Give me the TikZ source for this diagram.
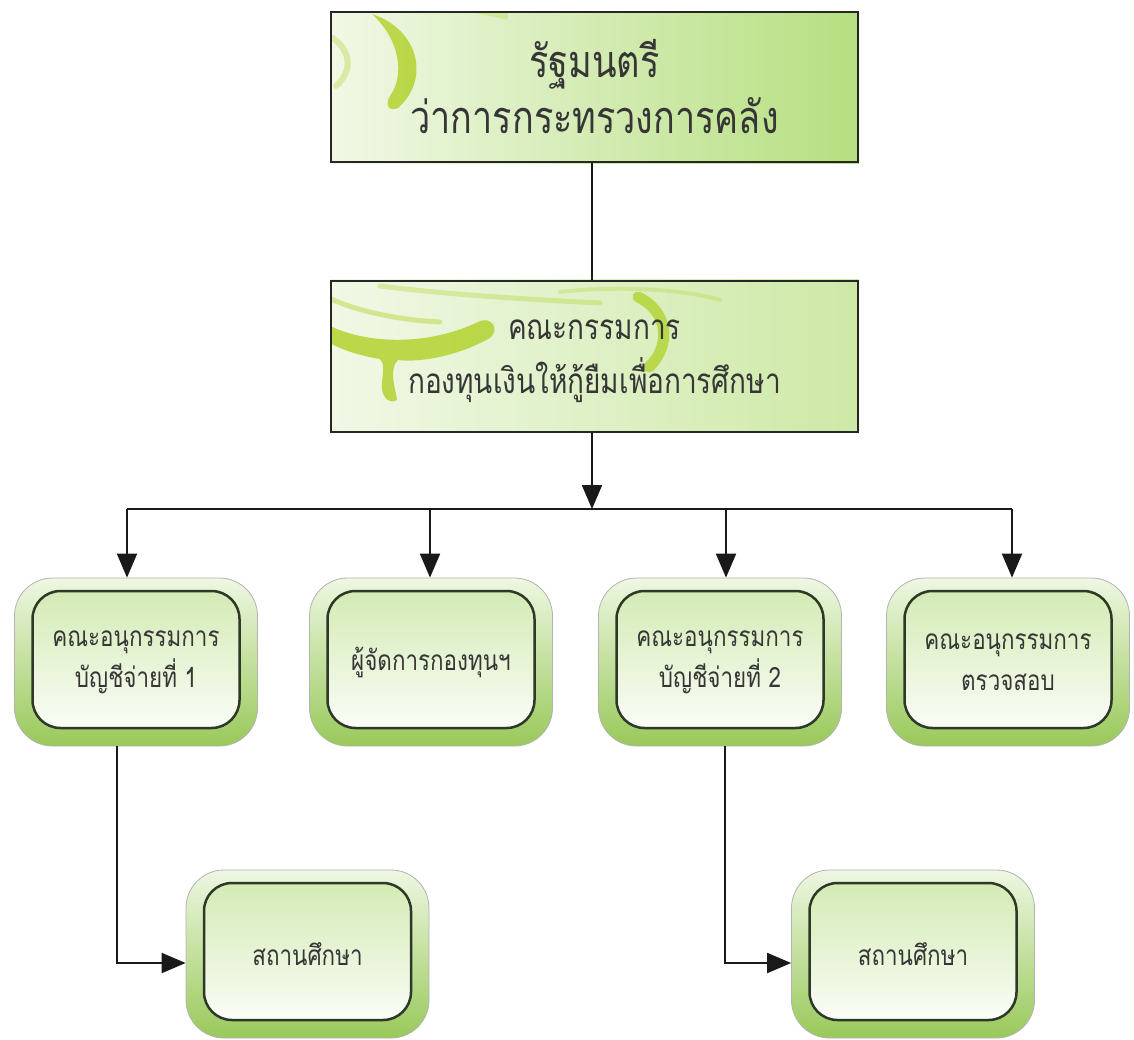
\documentclass[tikz,border=0pt]{standalone}
\usepackage{fontspec}
\newfontfamily\thaifont[Script=Thai,FakeStretch=0.8]{Loma}
\usetikzlibrary{arrows.meta,backgrounds}
\definecolor{rimgreen}{HTML}{99C95A}
\definecolor{rimlight}{HTML}{EEF7E2}
\definecolor{innertop}{HTML}{D0E9AE}
\definecolor{edgecol}{HTML}{2E3828}
\definecolor{txt}{HTML}{363636}
\definecolor{swirl}{HTML}{B2D330}
\definecolor{boxleft}{HTML}{F1F8E6}
\definecolor{boxrightA}{HTML}{B6DF80}
\definecolor{boxrightB}{HTML}{CDE9A6}
\begin{document}
\begin{tikzpicture}[x=1pt,y=-1pt,
  every node/.style={text=txt, align=center},
  conn/.style={line width=2pt, draw=black!90},
  arr/.style={conn, -{Triangle[length=24pt,width=20pt]}},
  rbox/.style={rectangle, rounded corners=38pt, minimum width=243pt,
    minimum height=168pt, inner sep=0pt, top color=rimlight,
    bottom color=rimgreen, draw=gray!60, line width=0.8pt,
    font=\thaifont\fontsize{28}{41}\selectfont,
    path picture={\shade[top color=innertop, bottom color=white,
      draw=edgecol, line width=2.5pt, rounded corners=28pt]
      ([xshift=18pt,yshift=18pt]path picture bounding box.south west)
      rectangle ([xshift=-18pt,yshift=-13pt]path picture bounding box.north east);}},
  sqbox/.style={rectangle, minimum width=527pt, minimum height=150pt,
    inner sep=0pt, draw=black!85, line width=2pt},
  swirlfill/.style={fill=swirl, opacity=.85},
  swirlline/.style={draw=swirl, line cap=round},
]
\useasboundingbox (0,0) rectangle (1134,1039);

% top box
\node[sqbox, font=\thaifont\fontsize{45}{56}\selectfont]
  (minister) at (594.5,87) {รัฐมนตรี\\ว่าการกระทรวงการคลัง};

% board box
\node[sqbox, minimum height=151pt, font=\thaifont\fontsize{35}{54}\selectfont]
  (board) at (594.5,356) {\raisebox{-5pt}{\begin{tabular}{@{}c@{}}คณะกรรมการ\\กองทุนเงินให้กู้ยืมเพื่อการศึกษา\end{tabular}}};

\begin{pgfonlayer}{background}
  % top box background and swirls
  \shade[left color=boxleft, right color=boxrightA]
    (minister.south west) rectangle (minister.north east);
  \begin{scope}
    \clip (minister.south west) rectangle (minister.north east);
    \fill[swirlfill] (372,14) .. controls (420,30) and (430,80) .. (398,108)
      .. controls (388,112) and (385,104) .. (390,96)
      .. controls (405,75) and (400,40) .. (372,14) -- cycle;
    \draw[swirlline, opacity=.35, line width=6pt] (333,38) .. controls (352,52) and (352,72) .. (336,86);
    \draw[swirlline, opacity=.3, line width=7pt] (375,10) .. controls (420,4) and (470,6) .. (505,16);
  \end{scope}
  % board box background and swirls
  \shade[left color=boxleft, right color=boxrightB]
    (board.south west) rectangle (board.north east);
  \begin{scope}
    \clip (board.south west) rectangle (board.north east);
    \fill[swirlfill] (330,326) .. controls (370,345) and (430,345) .. (478,322)
      .. controls (492,315) and (500,330) .. (490,338)
      .. controls (450,360) and (412,362) .. (398,360)
      .. controls (388,370) and (396,390) .. (397,400)
      .. controls (389,405) and (380,396) .. (382,382)
      .. controls (383,372) and (385,364) .. (380,359)
      .. controls (360,356) and (340,349) .. (330,343) -- cycle;
    \draw[swirlline, opacity=.45, line width=5pt] (331,299) .. controls (360,312) and (400,320) .. (440,322);
    \draw[swirlline, opacity=.35, line width=5pt] (380,286) .. controls (450,295) and (540,300) .. (600,303);
    \draw[swirlline, opacity=.3, line width=4pt] (560,292) .. controls (610,286) and (680,288) .. (720,300);
    \draw[swirlline, opacity=.8, line width=11pt] (638,297) .. controls (668,311) and (672,345) .. (649,367);
  \end{scope}
\end{pgfonlayer}

% sub-committee boxes
\node[rbox] (b1) at (136,662) {คณะอนุกรรมการ\\บัญชีจ่ายที่ 1};
\node[rbox] (b2) at (431,662) {ผู้จัดการกองทุนฯ};
\node[rbox] (b3) at (720,662) {คณะอนุกรรมการ\\บัญชีจ่ายที่ 2};
\node[rbox] (b4) at (1008,662) {คณะอนุกรรมการ\\ตรวจสอบ};

% schools
\node[rbox] (s1) at (307.5,954) {\raisebox{-9pt}{สถานศึกษา}};
\node[rbox] (s2) at (913,954) {\raisebox{-9pt}{สถานศึกษา}};

% connectors
\coordinate (j0) at (592,509);
\coordinate (j1) at (127,509);
\coordinate (j2) at (430,509);
\coordinate (j3) at (726,509);
\coordinate (j4) at (1012,509);

\draw[conn] ([xshift=-2.5pt]minister.south) -- ([xshift=-2.5pt]board.north);
\draw[arr] ([xshift=-2.5pt]board.south) -- (j0);
\draw[conn] (j1) -- (j4);
\draw[arr] (j1) -- (j1 |- b1.north);
\draw[arr] (j2) -- (j2 |- b2.north);
\draw[arr] (j3) -- (j3 |- b3.north);
\draw[arr] (j4) -- (j4 |- b4.north);

\draw[arr] ([xshift=-19pt]b1.south) |- ([yshift=-9pt]s1.west);
\draw[arr] ([xshift=5pt]b3.south) |- ([yshift=-9pt]s2.west);
\end{tikzpicture}
\end{document}
